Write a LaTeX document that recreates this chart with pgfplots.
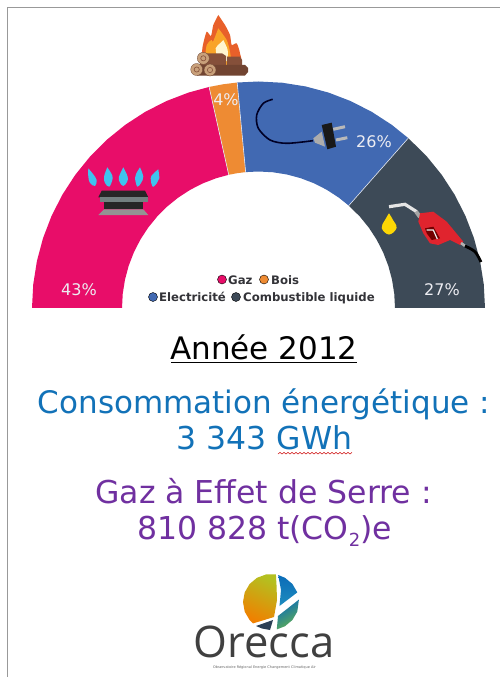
\documentclass[border=0pt]{standalone}
\usepackage{fontspec}
\setmainfont{DejaVu Sans}
\newfontfamily\logofont{Open Sans}
\usepackage{pgfplots}
\pgfplotsset{compat=1.18}
\definecolor{cgaz}{HTML}{E80D69}
\definecolor{cbois}{HTML}{EE8B33}
\definecolor{celec}{HTML}{4169B2}
\definecolor{ccomb}{HTML}{3D4A57}
\definecolor{cblue}{HTML}{1272B8}
\definecolor{cpurple}{HTML}{7030A0}
\definecolor{clab}{HTML}{EDEDF2}
\definecolor{cleg}{HTML}{333338}
\definecolor{cflame}{HTML}{3FC3EE}
\definecolor{cbrown}{HTML}{85503A}
\definecolor{cend}{HTML}{C8A07A}
\definecolor{fireout}{HTML}{E8602A}
\definecolor{firemid}{HTML}{F9A428}
\definecolor{firein}{HTML}{FFF6D0}
\definecolor{redp}{HTML}{E0242E}
\definecolor{lgreen}{HTML}{B4C020}
\definecolor{lyellow}{HTML}{FAD800}
\definecolor{lorange}{HTML}{F08000}
\definecolor{lblue}{HTML}{0A6CB8}
\definecolor{lteal}{HTML}{1E8CBE}
\definecolor{lgr}{HTML}{62B050}
\definecolor{ldark}{HTML}{2B3F55}
\begin{document}
\begin{tikzpicture}
% ---------- donut: origin at its centre, polar data (angle, radius)
\begin{axis}[at={(0pt,0pt)},anchor=south west,scale only axis,width=500pt,height=677pt,
  xmin=-258.5,xmax=241.5,ymin=-369,ymax=308,hide axis,clip=true]
\addplot[draw=none,fill=white] coordinates {(-258.5,-369)(241.5,-369)(241.5,308)(-258.5,308)} -- cycle;
\addplot[data cs=polar,fill=cgaz,draw=none] coordinates {
(180,226.5)(174,226.5)(168,226.5)(162,226.5)(156,226.5)(150,226.5)(144,226.5)(138,226.5)(132,226.5)(126,226.5)(120,226.5)(114,226.5)(108,226.5)(102.6,226.5)
(102.6,136.5)(108,136.5)(114,136.5)(120,136.5)(126,136.5)(132,136.5)(138,136.5)(144,136.5)(150,136.5)(156,136.5)(162,136.5)(168,136.5)(174,136.5)(180,136.5)} -- cycle;
\addplot[data cs=polar,fill=cbois,draw=none] coordinates {
(102.6,226.5)(99,226.5)(95.4,226.5)(95.4,136.5)(99,136.5)(102.6,136.5)} -- cycle;
\addplot[data cs=polar,fill=celec,draw=none] coordinates {
(95.4,226.5)(90,226.5)(84,226.5)(78,226.5)(72,226.5)(66,226.5)(60,226.5)(54,226.5)(48.6,226.5)
(48.6,136.5)(54,136.5)(60,136.5)(66,136.5)(72,136.5)(78,136.5)(84,136.5)(90,136.5)(95.4,136.5)} -- cycle;
\addplot[data cs=polar,fill=ccomb,draw=none] coordinates {
(48.6,226.5)(42,226.5)(36,226.5)(30,226.5)(24,226.5)(18,226.5)(12,226.5)(6,226.5)(0,226.5)
(0,136.5)(6,136.5)(12,136.5)(18,136.5)(24,136.5)(30,136.5)(36,136.5)(42,136.5)(48.6,136.5)} -- cycle;
\addplot[data cs=polar,draw=white!85!celec,line width=0.6pt] coordinates {(102.6,136.5)(102.6,226.5)};
\addplot[data cs=polar,draw=white!85!celec,line width=0.6pt] coordinates {(95.4,136.5)(95.4,226.5)};
\addplot[data cs=polar,draw=white!85!celec,line width=0.6pt] coordinates {(48.6,136.5)(48.6,226.5)};
\end{axis}
% ---------- everything else: axis coordinates are the picture's pixels
\begin{axis}[at={(0pt,0pt)},anchor=south west,scale only axis,width=500pt,height=677pt,
  xmin=0,xmax=500,ymin=0,ymax=677,y dir=reverse,hide axis,clip=true]
% frame
\addplot[draw=gray!80,line width=0.7pt] coordinates {(7.5,677)(7.5,7.5)(500,7.5)};
% fire
\addplot[fill=fireout,draw=none,smooth,tension=0.4] coordinates {(218.3,15)(225,25)(230,35)(231.7,45)(236.7,43.3)(240,53.3)(240,66)(203,66)(202,52)(203.3,43.3)(206.7,31.7)(211,36)(213.3,25)(218.3,15)} -- cycle;
\addplot[fill=firemid,draw=none,smooth,tension=0.4] coordinates {(218.3,28.3)(226.7,40)(230,52)(230,66)(206,66)(206.7,45)(211.7,40)(213,41.7)(218.3,28.3)} -- cycle;
\addplot[fill=firein,draw=none,smooth,tension=0.4] coordinates {(223.3,40)(227.7,50)(226.7,61)(218.3,61)(215.7,48.3)(220,43.3)(223.3,40)} -- cycle;
\addplot[fill=cbrown,draw=none] coordinates {(200,53.3)(222,53.3)(226,56)(226,65)(200,65)} -- cycle;
\addplot[fill=cbrown,draw=none] coordinates {(227,56.7)(240,56.7)(242,60)(242,65)(227,65)} -- cycle;
\addplot[fill=cbrown!85!black,draw=none] coordinates {(197,65)(245,65)(248,68)(248,72)(245,75.5)(197,75.5)} -- cycle;
\addplot[only marks,mark=*,mark size=6pt,mark options={fill=cend,draw=cbrown!80!black,line width=0.3pt}] coordinates {(203.3,58.3)(196.7,69.5)(210,70)};
\addplot[only marks,mark=o,mark size=2.6pt,mark options={draw=cbrown,line width=0.6pt}] coordinates {(203.3,58.3)(196.7,69.5)(210,70)};
% gas burner
\addplot[fill=cflame,draw=none,smooth,tension=0.6] coordinates {(88.3,168.3)(93,174)(96.7,180)(95,186)(90,183)(88.3,176.7)(88.3,168.3)} -- cycle;
\addplot[fill=cflame,draw=none,smooth,tension=0.6] coordinates {(107.3,167.3)(111,173)(112.7,178.3)(109.3,186.7)(105,183)(104,176.7)(107.3,167.3)} -- cycle;
\addplot[fill=cflame,draw=none,smooth,tension=0.6] coordinates {(123.3,167.3)(127.7,176.7)(127,182)(123.3,186)(119.6,182)(119,176.7)(123.3,167.3)} -- cycle;
\addplot[fill=cflame,draw=none,smooth,tension=0.6] coordinates {(140,167.3)(143.3,176.7)(141,183)(137.3,186.7)(135,178.3)(136,174)(140,167.3)} -- cycle;
\addplot[fill=cflame,draw=none,smooth,tension=0.6] coordinates {(158.3,169.3)(159.3,178.3)(157,183)(152.7,186.7)(150.7,178.3)(153,174)(158.3,169.3)} -- cycle;
\addplot[fill=black!85,draw=none] coordinates {(101.7,190.7)(145,190.7)(148.3,197.3)(98.3,197.3)} -- cycle;
\addplot[fill=gray!90!teal,draw=none] coordinates {(100,197.3)(148,197.3)(148,201.7)(100,201.7)} -- cycle;
\addplot[fill=black!85,draw=none] coordinates {(104,201.7)(143.3,201.7)(143.3,208.5)(104,208.5)} -- cycle;
\addplot[fill=gray!85,draw=none] coordinates {(104,209.3)(143.3,209.3)(148.3,215)(98.3,215)} -- cycle;
% plug
\addplot[draw=black!85!blue,line width=1.6pt,smooth] coordinates {(272.7,99.3)(263.3,103.3)(256.7,115)(258.3,128.3)(270,140)(286.7,143.3)(313,140.7)};
\addplot[fill=gray!65,draw=none] coordinates {(313.3,138.3)(321.7,131.7)(325,146.7)(315,142.7)} -- cycle;
\addplot[fill=black!90,draw=none] coordinates {(321.7,125)(331.7,122.7)(336,146.7)(327.3,149.3)} -- cycle;
\addplot[draw=gray!55,line width=3pt] coordinates {(333.3,129.3)(345,126.7)};
\addplot[draw=gray!55,line width=3pt] coordinates {(336,140)(347.3,137.7)};
% fuel pump and drop
\addplot[fill=yellow!75!orange,draw=none,smooth,tension=0.7] coordinates {(389,213.3)(393,220)(396.5,228)(389,234.5)(381.7,228)(385,220)(389,213.3)} -- cycle;
\addplot[draw=gray!20,line width=3.2pt] coordinates {(389,206.7)(405,204.3)(416.7,211.7)};
\addplot[draw=gray!70,line width=4pt] coordinates {(416,211.5)(420,217)};
\addplot[fill=redp,draw=none] coordinates {(420,213.3)(433.3,211.7)(446.7,221.7)(463.3,241.7)(460,245)(450,240)(438.3,245)(430,243.3)(423.3,233.3)(418.3,221.7)} -- cycle;
\addplot[fill=red!45!black,draw=none] coordinates {(425,228.3)(433.3,226.7)(440,238.3)(431.7,240)(426.7,233.3)} -- cycle;
\addplot[draw=white!85!gray,line width=1.2pt] coordinates {(426.7,230)(433.3,230)(437.3,239)};
\addplot[draw=gray!60,line width=2.6pt] coordinates {(461,243)(465,246)};
\addplot[draw=black,line width=2.8pt,smooth] coordinates {(465,246)(475,251.7)(481,262)};
% legend
\addplot[only marks,mark=*,mark size=4.5pt,mark options={fill=cgaz,draw=none}] coordinates {(222,279.5)};
\addplot[only marks,mark=*,mark size=4.5pt,mark options={fill=cbois,draw=none}] coordinates {(264,279.5)};
\addplot[only marks,mark=*,mark size=4.5pt,mark options={fill=celec,draw=none}] coordinates {(153,297)};
\addplot[only marks,mark=*,mark size=4.5pt,mark options={fill=ccomb,draw=none}] coordinates {(236,297)};
\node[anchor=base west,inner sep=0pt,text=cleg,font=\fontsize{11.7}{13}\selectfont\bfseries] at (axis cs:228,284) {Gaz};
\node[anchor=base west,inner sep=0pt,text=cleg,font=\fontsize{11.7}{13}\selectfont\bfseries] at (axis cs:271,284) {Bois};
\node[anchor=base west,inner sep=0pt,text=cleg,font=\fontsize{11.7}{13}\selectfont\bfseries] at (axis cs:159,301.5) {Electricité};
\node[anchor=base west,inner sep=0pt,text=cleg,font=\fontsize{11.7}{13}\selectfont\bfseries] at (axis cs:243,301.5) {Combustible liquide};
% percentages
\node[anchor=base,inner sep=0pt,text=clab,font=\fontsize{16}{18}\selectfont] at (axis cs:79,295) {43\%};
\node[anchor=base,inner sep=0pt,text=clab,font=\fontsize{16}{18}\selectfont] at (axis cs:226,105) {4\%};
\node[anchor=base,inner sep=0pt,text=clab,font=\fontsize{16}{18}\selectfont] at (axis cs:374,147) {26\%};
\node[anchor=base,inner sep=0pt,text=clab,font=\fontsize{16}{18}\selectfont] at (axis cs:442,295) {27\%};
% main text
\node[anchor=base,inner sep=0pt,font=\fontsize{31}{34}\selectfont] at (axis cs:264,359) {Année 2012};
\addplot[draw=black,line width=1pt] coordinates {(171,362.8)(357,362.8)};
\node[anchor=base,inner sep=0pt,text=cblue,font=\fontsize{31}{34}\selectfont] at (axis cs:264,413) {Consommation énergétique :};
\node[anchor=base,inner sep=0pt,text=cblue,font=\fontsize{31.5}{34}\selectfont] at (axis cs:264.5,449) {3 343 GWh};
\addplot[draw=red!80!black,line width=0.5pt] coordinates {(278,454)(280,452.4)(282,454)(284,452.4)(286,454)(288,452.4)(290,454)(292,452.4)(294,454)(296,452.4)(298,454)(300,452.4)(302,454)(304,452.4)(306,454)(308,452.4)(310,454)(312,452.4)(314,454)(316,452.4)(318,454)(320,452.4)(322,454)(324,452.4)(326,454)(328,452.4)(330,454)(332,452.4)(334,454)(336,452.4)(338,454)(340,452.4)(342,454)(344,452.4)(346,454)(348,452.4)(350,454)(352,452.4)};
\node[anchor=base,inner sep=0pt,text=cpurple,font=\fontsize{31.5}{34}\selectfont] at (axis cs:263.5,503) {Gaz à Effet de Serre :};
\node[anchor=base,inner sep=0pt,text=cpurple,font=\fontsize{31.5}{34}\selectfont] at (axis cs:264.5,539.5) {810 828 t(CO\raisebox{-6.5pt}{\fontsize{18}{20}\selectfont 2})e};
% logo
\addplot[top color=lgreen,middle color=lyellow,bottom color=lorange,shading angle=-25,draw=none] coordinates {(275.9,574.4)(266.1,574.4)(257,577.8)(249.6,584)(244.7,592.4)(243,602)(244.7,611.6)(249.6,620)(253,623.4)(274,617)(277,600)(276.5,585)} -- cycle;
\addplot[top color=lblue,bottom color=lteal,draw=none] coordinates {(278.2,575)(285,577.8)(292.4,584)(297.3,592.4)(279.5,606)(281,590)} -- cycle;
\addplot[top color=lblue,bottom color=lgr,shading angle=30,draw=none] coordinates {(298.9,599.6)(297.3,611.6)(292.4,620)(285,626.2)(276.8,629.4)(278,616)} -- cycle;
\addplot[fill=ldark,draw=none] coordinates {(256,626)(273,620)(270,630)(262,628.5)} -- cycle;
\node[anchor=base,inner sep=0pt,text=black!75,font=\logofont\fontsize{43.5}{46}\selectfont] at (axis cs:264,657.5) {Orecca};
\node[anchor=base,inner sep=0pt,text=black!60,font=\fontsize{3.5}{4}\selectfont] at (axis cs:264.5,668) {Observatoire Régional Energie Changement Climatique Air};
\end{axis}
\end{tikzpicture}
\end{document}
